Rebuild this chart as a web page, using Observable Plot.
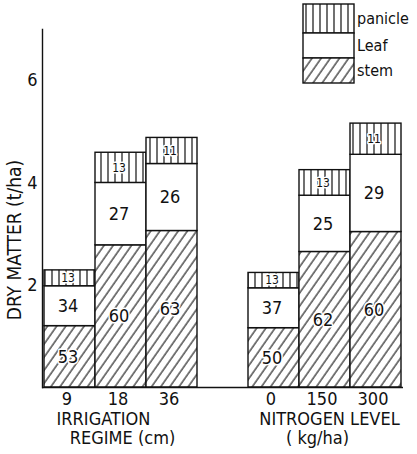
<!DOCTYPE html>
<html><head><meta charset="utf-8">
<script src="https://cdn.jsdelivr.net/npm/d3@7"></script>
<script src="https://cdn.jsdelivr.net/npm/@observablehq/plot@0.6"></script>
<style>
body{margin:0;background:#fff;}
#chart{width:417px;height:454px;}
#chart svg{font-family:"DejaVu Sans Condensed","DejaVu Sans",sans-serif;font-stretch:condensed;font-weight:400;}
</style></head><body><div id="chart"></div>
<script>
// x slots: the blank slot is the gap between the two treatment groups
const categories = ["9", "18", "36", " ", "0", "150", "300"];
const treatments = ["9", "18", "36", "0", "150", "300"];
// dry matter of each plant part (t/ha)
const stem    = [1.20, 2.78, 3.06, 1.16, 2.65, 3.04];
const leaf    = [0.78, 1.22, 1.31, 0.78, 1.10, 1.51];
const panicle = [0.31, 0.59, 0.51, 0.30, 0.50, 0.61];
// percentage labels printed in each segment
const stemPct    = [53, 60, 63, 50, 62, 60];
const leafPct    = [34, 27, 26, 37, 25, 29];
const paniclePct = [13, 13, 11, 13, 13, 11];
const parts = ["panicle", "Leaf", "stem"];
const yTicks = [2, 4, 6];
const groupTitles = [["IRRIGATION", "REGIME (cm)"], ["NITROGEN LEVEL", "( kg/ha)"]];
const yTitle = "DRY MATTER (t/ha)";

const fills = {stem: "url(#hatchStem)", Leaf: "white", panicle: "url(#hatchPanicle)"};
const rows = treatments.flatMap((t, i) => [
  {t, part: "stem", v: stem[i], pct: stemPct[i]},
  {t, part: "Leaf", v: leaf[i], pct: leafPct[i]},
  {t, part: "panicle", v: panicle[i], pct: paniclePct[i]}
]);

const ink = "#111";
const chart = Plot.plot({
  width: 417, height: 454,
  marginTop: 29, marginBottom: 67, marginLeft: 42, marginRight: 14,
  style: {background: "white", color: ink},
  x: {domain: categories, padding: 0, align: 0.5},
  y: {domain: [0, 7]},
  color: {type: "identity"},
  marks: [
    Plot.barY(rows, Plot.stackY({x: "t", y: "v", fill: d => fills[d.part], stroke: ink, strokeWidth: 1.4})),
    Plot.text(rows, Plot.stackY({x: "t", y: "v", text: d => String(d.pct),
      fontSize: d => d.part === "panicle" ? 12 : 18,
      dx: -2, fill: ink, stroke: "white", strokeWidth: 3, paintOrder: "stroke"})),
    Plot.ruleY([0], {stroke: ink, strokeWidth: 1.4}),
    Plot.frame({anchor: "left", stroke: ink, strokeWidth: 1.4}),
    Plot.axisY(yTicks, {tickSize: 0, tickPadding: 5, fontSize: 18, label: null, fill: ink, tickFormat: d3.format("d")}),
    Plot.axisX({tickSize: 0, tickPadding: 5, fontSize: 18, label: null, dx: -3, fill: ink})
  ]
});
document.getElementById("chart").append(chart);

const svg = d3.select(chart);
const defs = svg.insert("defs", ":first-child");
defs.append("pattern").attr("id", "hatchStem").attr("patternUnits", "userSpaceOnUse")
  .attr("width", 7.5).attr("height", 7.5).attr("patternTransform", "rotate(35)")
  .call(p => { p.append("rect").attr("width", 7.5).attr("height", 7.5).attr("fill", "white");
               p.append("line").attr("x1", 1).attr("x2", 1).attr("y1", 0).attr("y2", 7.5).attr("stroke", ink).attr("stroke-width", 1.1); });
defs.append("pattern").attr("id", "hatchPanicle").attr("patternUnits", "userSpaceOnUse")
  .attr("width", 7).attr("height", 10)
  .call(p => { p.append("rect").attr("width", 7).attr("height", 10).attr("fill", "white");
               p.append("line").attr("x1", 3).attr("x2", 3).attr("y1", 0).attr("y2", 10).attr("stroke", ink).attr("stroke-width", 1.2); });

const xs = chart.scale("x");
const bw = xs.bandwidth;
const cx = k => xs.apply(k) + bw / 2;
// group titles under the axis
const gt = svg.append("g").attr("fill", ink).attr("font-size", 18).attr("text-anchor", "middle");
gt.append("text").attr("x", cx("18") - 17).attr("y", 425).text(groupTitles[0][0]);
gt.append("text").attr("x", cx("18") + 2).attr("y", 444).text(groupTitles[0][1]);
gt.append("text").attr("x", cx("150") + 5).attr("y", 425).text(groupTitles[1][0]);
gt.append("text").attr("x", cx("150") - 7).attr("y", 444).text(groupTitles[1][1]);
// y title
svg.append("text").attr("fill", ink).attr("font-size", 19).attr("text-anchor", "middle")
  .attr("transform", "translate(21,240) rotate(-90)").text(yTitle);
// legend
const lg = svg.append("g").attr("transform", "translate(303,4)").attr("text-anchor", "start");
const lh = [29, 25, 25];
let yy = 0;
parts.forEach((p, i) => {
  lg.append("rect").attr("x", 0).attr("y", yy).attr("width", 51).attr("height", lh[i])
    .attr("fill", fills[p]).attr("stroke", ink).attr("stroke-width", 1.4);
  lg.append("text").attr("x", 54).attr("y", yy + lh[i] / 2).attr("dy", "0.35em")
    .attr("font-size", 16).attr("fill", ink).text(p);
  yy += lh[i];
});
</script></body></html>
